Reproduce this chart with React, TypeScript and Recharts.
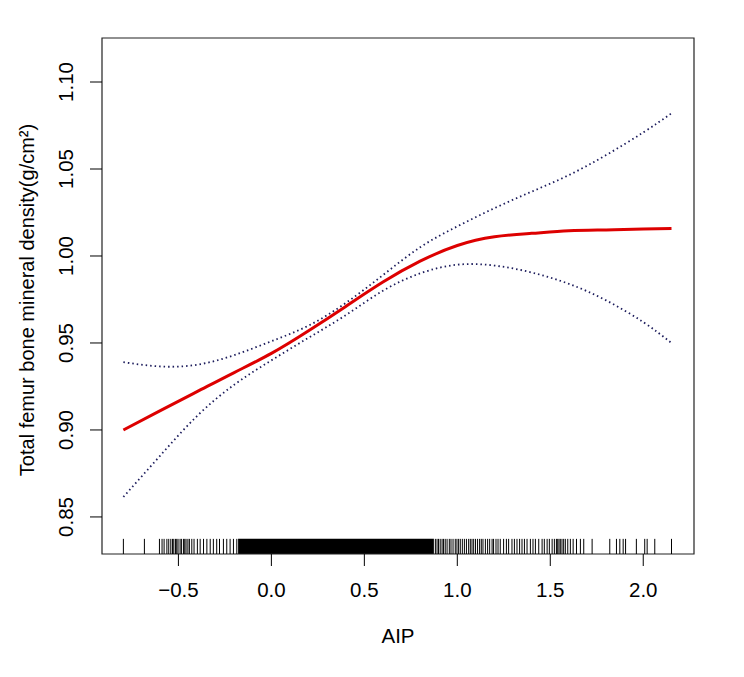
import { LineChart, Line, XAxis, YAxis, ReferenceArea, ReferenceLine } from 'recharts'

// AIP grid where the smooth fit and its confidence band were read
const aip = [-0.796, -0.6, -0.4, -0.2, 0, 0.2, 0.4, 0.6, 0.8, 1.0, 1.2, 1.4, 1.6, 1.8, 2.0, 2.152]
const fit = [0.9, 0.911, 0.922, 0.933, 0.944, 0.957, 0.971, 0.985, 0.997, 1.006, 1.011, 1.013, 1.0145, 1.015, 1.0155, 1.0158]
const upper = [0.939, 0.9365, 0.9375, 0.943, 0.951, 0.96, 0.973, 0.989, 1.005, 1.017, 1.0275, 1.037, 1.0465, 1.058, 1.071, 1.082]
const lower = [0.8615, 0.885, 0.908, 0.926, 0.94, 0.953, 0.966, 0.98, 0.99, 0.995, 0.9945, 0.9905, 0.984, 0.9745, 0.962, 0.95]

const xTicks = [-0.5, 0, 0.5, 1, 1.5, 2]
const yTicks = [0.85, 0.9, 0.95, 1.0, 1.05, 1.1]
const xDomain = [-0.911, 2.273]
const yDomain = [0.8287, 1.1253]

// rug: single observations outside the dense block
const rugValues = [
  -0.796, -0.683, -0.602, -0.588, -0.577, -0.562, -0.552, -0.541, -0.532, -0.525, -0.516, -0.509,
  -0.502, -0.491, -0.484, -0.473, -0.466, -0.459, -0.449, -0.441, -0.428, -0.416, -0.398, -0.383,
  -0.365, -0.347, -0.329, -0.312, -0.294, -0.279, -0.258, -0.24, -0.222, -0.204, -0.186,
  0.882, 0.891, 0.899, 0.908, 0.918, 0.926, 0.935, 0.945, 0.957, 0.966, 0.977, 0.989, 0.998, 1.007,
  1.016, 1.027, 1.038, 1.049, 1.061, 1.07, 1.079, 1.088, 1.098, 1.109, 1.12, 1.129, 1.138, 1.151,
  1.163, 1.174, 1.187, 1.195, 1.208, 1.219, 1.231, 1.249, 1.264, 1.276, 1.294, 1.307, 1.321, 1.335,
  1.348, 1.361, 1.375, 1.393, 1.407, 1.42, 1.438, 1.456, 1.468, 1.483, 1.495, 1.51, 1.522, 1.533,
  1.54, 1.547, 1.554, 1.563, 1.572, 1.581, 1.594, 1.608, 1.623, 1.641, 1.662, 1.68, 1.725, 1.82,
  1.856, 1.874, 1.892, 1.905, 1.963, 2.008, 2.021, 2.062, 2.152
]
// rug: range where ticks merge into a solid black block
const rugDense = [-0.179, 0.874]
const rugTop = 0.8374

const chartData = aip.map((x, i) => ({ x, fit: fit[i], upper: upper[i], lower: lower[i] }))

const FONT = '"Liberation Sans", Arial, sans-serif'
const FS = 20.5

const XTick = (props: any) => {
  const { x, y, payload } = props
  const v = payload.value as number
  const label = v < 0 ? '\u2212' + Math.abs(v).toFixed(1) : v.toFixed(1)
  return (
    <text x={x} y={y + 31} textAnchor="middle" fontSize={FS} fontFamily={FONT} fill="#000">
      {label}
    </text>
  )
}

const YTick = (props: any) => {
  const { x, y, payload } = props
  const tx = x - 5
  return (
    <text x={tx} y={y} transform={`rotate(-90, ${tx}, ${y})`} textAnchor="middle" fontSize={FS} fontFamily={FONT} fill="#000">
      {(payload.value as number).toFixed(2)}
    </text>
  )
}

export default function App() {
  return (
    <div style={{ position: 'absolute', left: 0, top: 0, background: '#fff' }}>
      <LineChart width={744} height={677} data={chartData} margin={{ top: 38, right: 50, bottom: 0, left: 0 }}>
        <XAxis
          dataKey="x"
          type="number"
          domain={xDomain}
          allowDataOverflow
          ticks={xTicks}
          height={123}
          tickSize={12}
          tickMargin={0}
          axisLine={false}
          tickLine={{ stroke: '#000' }}
          tick={<XTick />}
          label={{
            content: ({ viewBox }: any) => (
              <text x={viewBox.x + viewBox.width / 2} y={viewBox.y + 89} textAnchor="middle" fontSize={FS} fontFamily={FONT} fill="#000">
                AIP
              </text>
            )
          }}
        />
        <YAxis
          type="number"
          domain={yDomain}
          allowDataOverflow
          ticks={yTicks}
          width={102}
          tickSize={12}
          tickMargin={12}
          axisLine={false}
          tickLine={{ stroke: '#000' }}
          tick={<YTick />}
          label={{
            content: ({ viewBox }: any) => {
              const cx = 34
              const cy = viewBox.y + viewBox.height / 2 + 4
              return (
                <text x={cx} y={cy} transform={`rotate(-90, ${cx}, ${cy})`} textAnchor="middle" fontSize={20} fontFamily={FONT} fill="#000">
                  Total femur bone mineral density(g/cm²)
                </text>
              )
            }
          }}
        />
        <ReferenceArea x1={rugDense[0]} x2={rugDense[1]} y1={yDomain[0]} y2={rugTop} fill="#000" fillOpacity={1} stroke="none" ifOverflow="visible" />
        {rugValues.map((v, i) => (
          <ReferenceLine
            key={`rug-${i}`}
            segment={[{ x: v, y: yDomain[0] }, { x: v, y: rugTop }]}
            stroke="#000"
            strokeWidth={1}
            ifOverflow="visible"
          />
        ))}
        <Line type="natural" dataKey="upper" stroke="#1c1c5c" strokeWidth={1.8} strokeDasharray="1.5 3" dot={false} isAnimationActive={false} />
        <Line type="natural" dataKey="lower" stroke="#1c1c5c" strokeWidth={1.8} strokeDasharray="1.5 3" dot={false} isAnimationActive={false} />
        <Line type="natural" dataKey="fit" stroke="#dd0000" strokeWidth={3} dot={false} isAnimationActive={false} />
        <ReferenceArea x1={xDomain[0]} x2={xDomain[1]} y1={yDomain[0]} y2={yDomain[1]} fill="none" stroke="#222" strokeWidth={1.2} ifOverflow="visible" />
      </LineChart>
    </div>
  )
}
